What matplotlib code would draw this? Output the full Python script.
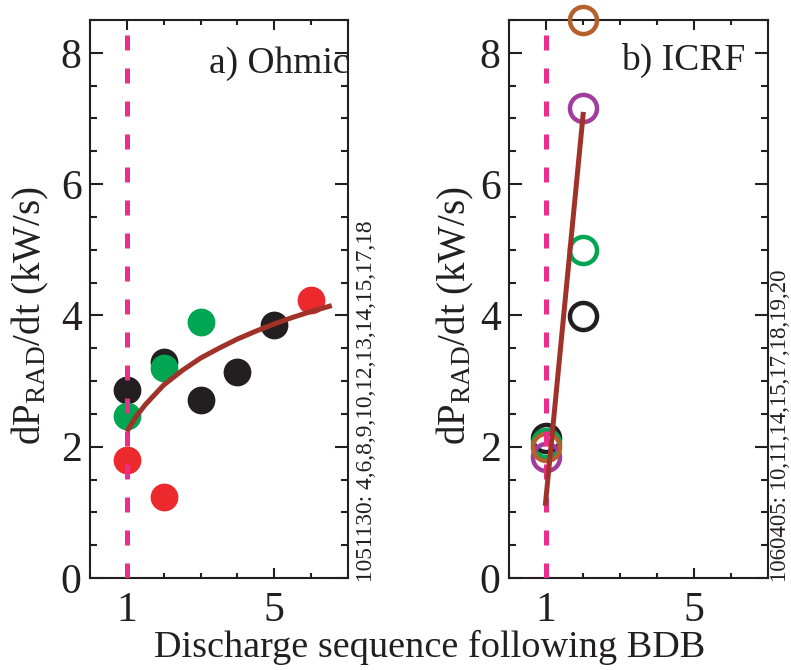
import matplotlib
matplotlib.use('Agg')
import matplotlib.pyplot as plt
from matplotlib.ticker import MultipleLocator, FixedLocator

plt.rcParams['font.family'] = ['Liberation Serif', 'DejaVu Serif']
plt.rcParams['mathtext.fontset'] = 'custom'
plt.rcParams['mathtext.rm'] = 'Liberation Serif'
plt.rcParams['mathtext.it'] = 'Liberation Serif:italic'

# ---- data: a) Ohmic ----
ohmic_black_x = [1, 2, 3, 4, 5]
ohmic_black_y = [2.87, 3.29, 2.71, 3.14, 3.86]
ohmic_green_x = [1, 2, 3]
ohmic_green_y = [2.47, 3.20, 3.90]
ohmic_red_x = [1, 2, 6]
ohmic_red_y = [1.80, 1.23, 4.24]
ohmic_fit_x = [1.0, 1.25, 1.5, 2.0, 2.5, 3.0, 3.5, 4.0, 4.5, 5.0, 5.5, 6.0, 6.56]
ohmic_fit_y = [2.23, 2.46, 2.64, 2.94, 3.16, 3.35, 3.50, 3.64, 3.76, 3.87, 3.97, 4.06, 4.15]

# ---- data: b) ICRF ----
icrf_x = [1, 2]
icrf_black_y = [2.13, 3.99]
icrf_green_y = [2.06, 5.00]
icrf_purple_y = [1.84, 7.16]
icrf_brown_y = [2.00, 8.50]
icrf_fit_x = [0.98, 2.01]
icrf_fit_y = [1.10, 7.10]

bdb_x = 1
ylim = (0, 8.5)
xlim = (0, 7)
xticks = [1, 5]
yticks = [0, 2, 4, 6, 8]

C_BLACK = '#231f20'
C_GREEN = '#00a651'
C_RED = '#ec2a2e'
C_PURPLE = '#a23c9d'
C_BROWN = '#b5602c'
C_FIT = '#a0322a'
C_DASH = '#ec2d8e'

fig = plt.figure(figsize=(7.91, 6.70), dpi=100)
W, H = 791, 670
axL = fig.add_axes([90 / W, (H - 578) / H, 258 / W, 558 / H])
axR = fig.add_axes([509 / W, (H - 578) / H, 259 / W, 558 / H])

TICK_FS = 30
for ax in (axL, axR):
    ax.set_xlim(*xlim)
    ax.set_ylim(*ylim)
    ax.xaxis.set_major_locator(FixedLocator(xticks))
    ax.xaxis.set_minor_locator(MultipleLocator(1))
    ax.yaxis.set_major_locator(FixedLocator(yticks))
    ax.yaxis.set_minor_locator(MultipleLocator(0.5))
    ax.tick_params(which='both', direction='in', top=True, right=True,
                   width=1.5, color='#231f20', labelsize=TICK_FS, labelcolor='#231f20')
    ax.tick_params(axis='y', which='major', length=9.5, pad=6)
    ax.tick_params(axis='y', which='minor', length=4.8)
    ax.tick_params(axis='x', which='major', length=7.5, pad=10)
    ax.tick_params(axis='x', which='minor', length=3.8)
    for s in ax.spines.values():
        s.set_linewidth(1.5)
        s.set_color('#231f20')
    ax.text(-0.23 if ax is axL else -0.205, 0.47,
            r'dP$_{\rm RAD}$/dt (kW/s)', rotation=90, ha='center', va='center',
            fontsize=28, color='#231f20', transform=ax.transAxes)

# left panel
ms = 20
axL.plot(ohmic_black_x, ohmic_black_y, 'o', ms=ms, color=C_BLACK, mec='none', zorder=3)
axL.plot(ohmic_green_x, ohmic_green_y, 'o', ms=ms, color=C_GREEN, mec='none', zorder=3)
axL.plot(ohmic_red_x, ohmic_red_y, 'o', ms=ms, color=C_RED, mec='none', zorder=3)
axL.axvline(bdb_x, color=C_DASH, lw=3.6, dashes=(3.0, 3.6), zorder=4)
axL.plot(ohmic_fit_x, ohmic_fit_y, '-', color=C_FIT, lw=3.6, zorder=5,
         solid_capstyle='butt')
axL.text(1.005, 0.905, 'a) Ohmic', ha='right', va='baseline', fontsize=27,
         color='#231f20', transform=axL.transAxes)

# right panel
ms2, mew2 = 19.5, 3.2
axR.plot(icrf_x, icrf_black_y, 'o', ms=ms2, mfc='none', mec=C_BLACK, mew=mew2, zorder=3, clip_on=False)
axR.plot(icrf_x, icrf_green_y, 'o', ms=ms2, mfc='none', mec=C_GREEN, mew=mew2, zorder=3, clip_on=False)
axR.plot(icrf_x, icrf_purple_y, 'o', ms=ms2, mfc='none', mec=C_PURPLE, mew=mew2, zorder=3, clip_on=False)
axR.plot(icrf_x, icrf_brown_y, 'o', ms=ms2, mfc='none', mec=C_BROWN, mew=mew2, zorder=3, clip_on=False)
axR.axvline(bdb_x, color=C_DASH, lw=3.6, dashes=(3.0, 3.6), zorder=4)
axR.plot(icrf_fit_x, icrf_fit_y, '-', color=C_FIT, lw=3.6, zorder=5,
         solid_capstyle='butt')
axR.text(0.911, 0.91, 'b) ICRF', ha='right', va='baseline', fontsize=27,
         color='#231f20', transform=axR.transAxes)

# shot labels
fig.text(366 / W, (H - 582) / H, '1051130: 4,6,8,9,10,12,13,14,15,17,18',
         rotation=90, ha='center', va='bottom', fontsize=16.8, color='#231f20')
fig.text(780 / W, (H - 582) / H, '1060405: 10,11,14,15,17,18,19,20',
         rotation=90, ha='center', va='bottom', fontsize=16.5, color='#231f20')

fig.text(430 / W, (H - 657) / H, 'Discharge sequence following BDB',
         ha='center', va='baseline', fontsize=27.5, color='#231f20')

fig.savefig('out.png', dpi=100)
